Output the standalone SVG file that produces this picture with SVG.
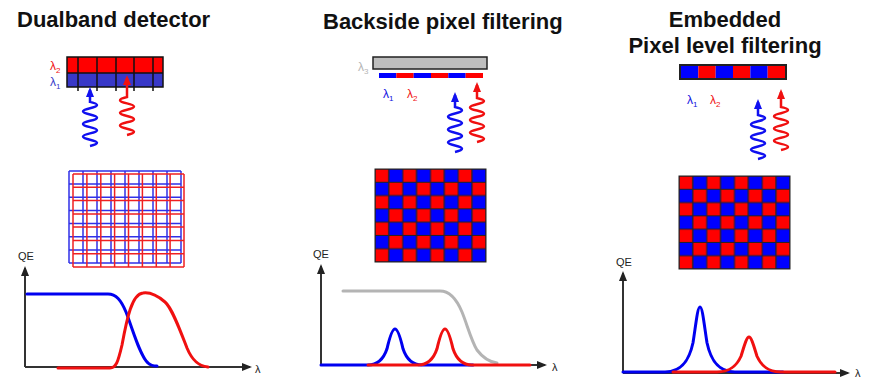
<svg xmlns="http://www.w3.org/2000/svg" width="869" height="392" viewBox="0 0 869 392">
<style>
.title{font-family:"Liberation Sans",Arial,sans-serif;font-weight:bold;font-size:22px;fill:#111}
.lbl{font-family:"Liberation Sans",Arial,sans-serif;font-size:12px}
.sub{font-size:8px}
.qe{font-family:"Liberation Sans",Arial,sans-serif;font-size:11px;fill:#222}
.axis{fill:none;stroke:#333;stroke-width:2}
.cb{fill:none;stroke:#0000F0;stroke-width:3;stroke-linejoin:round;stroke-linecap:round}
.cr{fill:none;stroke:#F01010;stroke-width:3;stroke-linejoin:round;stroke-linecap:round}
.cg{fill:none;stroke:#B4B4B4;stroke-width:3;stroke-linejoin:round;stroke-linecap:round}
.wb{fill:none;stroke:#1010F0;stroke-width:2.5;marker-end:url(#ahB)}
.wr{fill:none;stroke:#F01010;stroke-width:2.5;marker-end:url(#ahR)}
.gb{fill:none;stroke:#3030E8;stroke-width:1.5}
.gr{fill:none;stroke:#F02020;stroke-width:1.5}
</style>
<defs>
<marker id="ahB" markerUnits="userSpaceOnUse" markerWidth="10" markerHeight="8" refX="7" refY="4" orient="auto"><path d="M0,0 L10,4 L0,8 z" fill="#1010F0"/></marker>
<marker id="ahR" markerUnits="userSpaceOnUse" markerWidth="10" markerHeight="8" refX="7" refY="4" orient="auto"><path d="M0,0 L10,4 L0,8 z" fill="#F01010"/></marker>
<marker id="ahK" markerUnits="userSpaceOnUse" markerWidth="10" markerHeight="8" refX="8" refY="4" orient="auto"><path d="M0,0 L10,4 L0,8 z" fill="#222"/></marker>
<pattern id="chk" patternUnits="userSpaceOnUse" width="27.75" height="26.57">
<rect x="0" y="0" width="13.875" height="13.285" fill="#FF0000" stroke="#222" stroke-width="1"/>
<rect x="13.875" y="0" width="13.875" height="13.285" fill="#0000FF" stroke="#222" stroke-width="1"/>
<rect x="0" y="13.285" width="13.875" height="13.285" fill="#0000FF" stroke="#222" stroke-width="1"/>
<rect x="13.875" y="13.285" width="13.875" height="13.285" fill="#FF0000" stroke="#222" stroke-width="1"/>
</pattern>
</defs>

<g id="titles">
<text class="title" x="17" y="27">Dualband detector</text>
<text class="title" x="323" y="29">Backside pixel filtering</text>
<text class="title" x="725" y="27" text-anchor="middle">Embedded</text>
<text class="title" x="725" y="53" text-anchor="middle">Pixel level filtering</text>
</g>

<!-- Panel 1 -->
<g id="dualband-bar">
<rect x="67" y="57" width="96" height="16" fill="#FF0000"/>
<rect x="67" y="73" width="96" height="14" fill="#3838C8"/>
<rect x="67" y="57" width="96" height="30" fill="none" stroke="#111" stroke-width="1.5"/>
<path d="M67,73 H163 M78,57 V91 M97,57 V91 M116,57 V91 M134,57 V91 M153,57 V91" stroke="#111" stroke-width="1.5" fill="none"/>
<text class="lbl" x="50" y="70" fill="#F01010">λ<tspan class="sub" dy="3">2</tspan></text>
<text class="lbl" x="50" y="86" fill="#3838C8">λ<tspan class="sub" dy="3">1</tspan></text>
</g>
<g id="dualband-grid">
<path class="gb" d="M69,171 V263 M83,171 V263 M97,171 V263 M111,171 V263 M125,171 V263 M139,171 V263 M153,171 V263 M167,171 V263 M181,171 V263 M69,171 H181 M69,184.1 H181 M69,197.3 H181 M69,210.4 H181 M69,223.6 H181 M69,236.7 H181 M69,249.9 H181 M69,263 H181"/>
<path class="gr" d="M73,174 V267 M86.9,174 V267 M100.8,174 V267 M114.6,174 V267 M128.5,174 V267 M142.4,174 V267 M156.3,174 V267 M170.1,174 V267 M184,174 V267 M73,174 H184 M73,187.3 H184 M73,200.6 H184 M73,213.9 H184 M73,227.1 H184 M73,240.4 H184 M73,253.7 H184 M73,267 H184"/>
</g>
<g id="dualband-qe">
<path class="axis" d="M25,367 V268" marker-end="url(#ahK)"/>
<path class="axis" d="M25,367 H250" marker-end="url(#ahK)"/>
<text class="qe" x="26" y="260" text-anchor="middle">QE</text>
<text class="qe" x="255" y="373">λ</text>
<path class="cb" d="M27,294 H108 C116,294 121,300 126,312 C133,330 140,356 148,363 C151,366 154,366 157,366"/>
<path class="cr" d="M58,368 H110 C116,368 118,362 122,345 C127,318 132,294 143,293 C150,292 158,296 165,302 C172,308 180,330 187,348 C192,360 198,366 208,367"/>
</g>

<!-- Panel 2 -->
<g id="backside-stack">
<rect x="373" y="57" width="114" height="12" fill="#BEBEBE" stroke="#222" stroke-width="1.5"/>
<rect x="379" y="73" width="17.33" height="5" fill="#0000FF"/>
<rect x="396.33" y="73" width="17.33" height="5" fill="#FF0000"/>
<rect x="413.67" y="73" width="17.33" height="5" fill="#0000FF"/>
<rect x="431" y="73" width="17.33" height="5" fill="#FF0000"/>
<rect x="448.33" y="73" width="17.33" height="5" fill="#0000FF"/>
<rect x="465.67" y="73" width="17.33" height="5" fill="#FF0000"/>
<text class="lbl" x="358" y="71" fill="#B4B4B4">λ<tspan class="sub" dy="3">3</tspan></text>
<text class="lbl" x="383" y="98" fill="#1010E0">λ<tspan class="sub" dy="3">1</tspan></text>
<text class="lbl" x="407" y="98" fill="#F01010">λ<tspan class="sub" dy="3">2</tspan></text>
</g>
<g id="backside-checker" transform="translate(375,169)">
<rect x="0" y="0" width="111" height="93" fill="url(#chk)" stroke="#222" stroke-width="1"/>
</g>
<g id="backside-qe">
<path class="axis" d="M321,365 V266" marker-end="url(#ahK)"/>
<path class="axis" d="M321,365 H545" marker-end="url(#ahK)"/>
<text class="qe" x="321" y="258" text-anchor="middle">QE</text>
<text class="qe" x="552" y="371">λ</text>
<path class="cg" d="M343,291 H440 C450,291 457,300 462,312 C467,324 471,340 477,350 C483,358 490,362 497,363"/>
<path class="cb" d="M321,365 H368 C379,365 384,357.8 387,348.8 C389.5,338 392.5,329 395,329 C397.5,329 400.5,338 403,348.8 C406,357.8 411,365 422,365 H473"/>
<path class="cr" d="M368,365 H418 C429,365 434,357.8 437,348.8 C439.5,338 442.5,329 445,329 C447.5,329 450.5,338 453,348.8 C456,357.8 461,365 472,365 H530"/>
</g>

<!-- Panel 3 -->
<g id="embedded-bar">
<rect x="681" y="66" width="17.33" height="12" fill="#0000FF"/>
<rect x="698.33" y="66" width="17.33" height="12" fill="#FF0000"/>
<rect x="715.67" y="66" width="17.33" height="12" fill="#0000FF"/>
<rect x="733" y="66" width="17.33" height="12" fill="#FF0000"/>
<rect x="750.33" y="66" width="17.33" height="12" fill="#0000FF"/>
<rect x="767.67" y="66" width="17.33" height="12" fill="#FF0000"/>
<rect x="680" y="65" width="106" height="14" fill="none" stroke="#222" stroke-width="2"/>
<text class="lbl" x="687" y="104" fill="#1010E0">λ<tspan class="sub" dy="3">1</tspan></text>
<text class="lbl" x="710" y="104" fill="#F01010">λ<tspan class="sub" dy="3">2</tspan></text>
</g>
<g id="embedded-checker" transform="translate(679,176)">
<rect x="0" y="0" width="111" height="93" fill="url(#chk)" stroke="#222" stroke-width="1"/>
</g>
<g id="embedded-qe">
<path class="axis" d="M623,373 V273" marker-end="url(#ahK)"/>
<path class="axis" d="M623,373 H848" marker-end="url(#ahK)"/>
<text class="qe" x="624" y="266" text-anchor="middle">QE</text>
<text class="qe" x="855" y="377">λ</text>
<path class="cb" d="M623,372 H665 C682.5,372 689.5,359 693,342.75 C695.8,325.2 697.55,307 700,307 C702.45,307 704.2,325.2 707,342.75 C710.5,359 717.5,372 735,372 H783"/>
<path class="cr" d="M673,372 H717 C731,372 737,365 741,356.25 C744,346.8 746.5,337 749,337 C751.5,337 754,346.8 757,356.25 C761,365 767,372 781,372 H835"/>
</g>

<g id="connectors">
<path class="wb" d="M90,146 q14,-3.15 0,-6.3 t0,-6.3 t0,-6.3 t0,-6.3 t0,-6.3 t0,-6.3 t0,-6.3 L90,90"/>
<path class="wr" d="M127,135 q14,-3.17 0,-6.33 t0,-6.33 t0,-6.33 t0,-6.33 t0,-6.33 t0,-6.33 L127,78"/>
<path class="wb" d="M455,152 q14,-3.21 0,-6.43 t0,-6.43 t0,-6.43 t0,-6.43 t0,-6.43 t0,-6.43 t0,-6.43 L455,95"/>
<path class="wr" d="M477,142 q14,-3.14 0,-6.29 t0,-6.29 t0,-6.29 t0,-6.29 t0,-6.29 t0,-6.29 t0,-6.29 L477,85"/>
<path class="wb" d="M758,159 q14,-3.14 0,-6.29 t0,-6.29 t0,-6.29 t0,-6.29 t0,-6.29 t0,-6.29 t0,-6.29 L758,102"/>
<path class="wr" d="M781,150 q14,-3.07 0,-6.14 t0,-6.14 t0,-6.14 t0,-6.14 t0,-6.14 t0,-6.14 t0,-6.14 L781,92"/>
</g>
</svg>
